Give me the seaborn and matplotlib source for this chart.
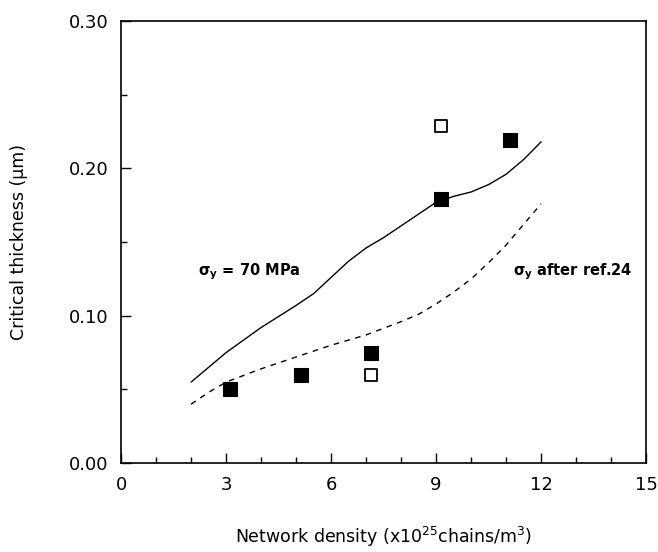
import matplotlib
matplotlib.use("Agg")
import matplotlib.pyplot as plt
import seaborn as sns
from matplotlib.ticker import MultipleLocator, FormatStrFormatter

# data
filled_x = [3.1, 5.15, 7.15, 9.15, 11.1]
filled_y = [0.050, 0.060, 0.075, 0.179, 0.219]
open_x = [7.15, 9.15]
open_y = [0.060, 0.229]

# sigma_y = 70 MPa curve
solid_x = [2.0, 3.0, 4.0, 5.0, 5.5, 6.0, 6.5, 7.0, 7.5, 8.0, 8.5, 9.0,
           9.5, 10.0, 10.5, 11.0, 11.5, 12.0]
solid_y = [0.055, 0.075, 0.092, 0.107, 0.115, 0.126, 0.137, 0.146, 0.153,
           0.161, 0.169, 0.177, 0.181, 0.184, 0.189, 0.196, 0.206, 0.218]
# sigma_y after ref.24 curve
dashed_x = [2.0, 2.5, 3.0, 4.0, 5.0, 6.0, 7.0, 8.0, 8.5, 9.0, 9.5, 10.0,
            10.5, 11.0, 11.5, 12.0]
dashed_y = [0.040, 0.048, 0.055, 0.064, 0.072, 0.080, 0.087, 0.096, 0.101,
            0.108, 0.116, 0.125, 0.136, 0.148, 0.162, 0.176]

sns.set_style("ticks")
plt.rcParams["font.family"] = ["DejaVu Sans"]
plt.rcParams["mathtext.default"] = "regular"
plt.rcParams["text.color"] = "black"
plt.rcParams["axes.labelcolor"] = "black"
plt.rcParams["xtick.color"] = "black"
plt.rcParams["ytick.color"] = "black"
plt.rcParams["axes.edgecolor"] = "black"

fig = plt.figure(figsize=(6.58, 5.52), dpi=100)
ax = fig.add_axes([0.184, 0.161, 0.798, 0.801])

sns.lineplot(x=solid_x, y=solid_y, ax=ax, color="black", linewidth=1.0)
sns.lineplot(x=dashed_x, y=dashed_y, ax=ax, color="black", linewidth=1.0,
             linestyle=(0, (4, 4)))
sns.scatterplot(x=filled_x, y=filled_y, ax=ax, marker="s", s=95,
                color="black", edgecolor="black", zorder=3)
sns.scatterplot(x=open_x, y=open_y, ax=ax, marker="s", s=72,
                facecolor="white", edgecolor="black", linewidth=1.3, zorder=3)

ax.text(2.2, 0.130, r"$\sigma_y$ = 70 MPa", fontsize=10.5, fontweight="bold",
        va="center", ha="left")
ax.text(14.6, 0.130, r"$\sigma_y$ after ref.24", fontsize=10.5, fontweight="bold",
        va="center", ha="right")

ax.set_xlim(0, 15)
ax.set_ylim(0, 0.30)
ax.xaxis.set_major_locator(MultipleLocator(3))
ax.xaxis.set_minor_locator(MultipleLocator(1))
ax.yaxis.set_major_locator(MultipleLocator(0.1))
ax.yaxis.set_minor_locator(MultipleLocator(0.05))
ax.yaxis.set_major_formatter(FormatStrFormatter("%.2f"))
ax.tick_params(which="major", direction="in", length=7, width=1.0,
               labelsize=13, pad=9)
ax.tick_params(which="minor", direction="in", length=4, width=1.0)
for sp in ax.spines.values():
    sp.set_visible(True)
    sp.set_linewidth(1.2)

ax.set_xlabel(r"Network density (x10$^{25}$chains/m$^{3}$)", fontsize=12.5)
ax.set_ylabel("Critical thickness (μm)", fontsize=12.5)
ax.xaxis.set_label_coords(0.5, -0.14)
ax.yaxis.set_label_coords(-0.177, 0.5)

fig.savefig("out.png", dpi=100)
